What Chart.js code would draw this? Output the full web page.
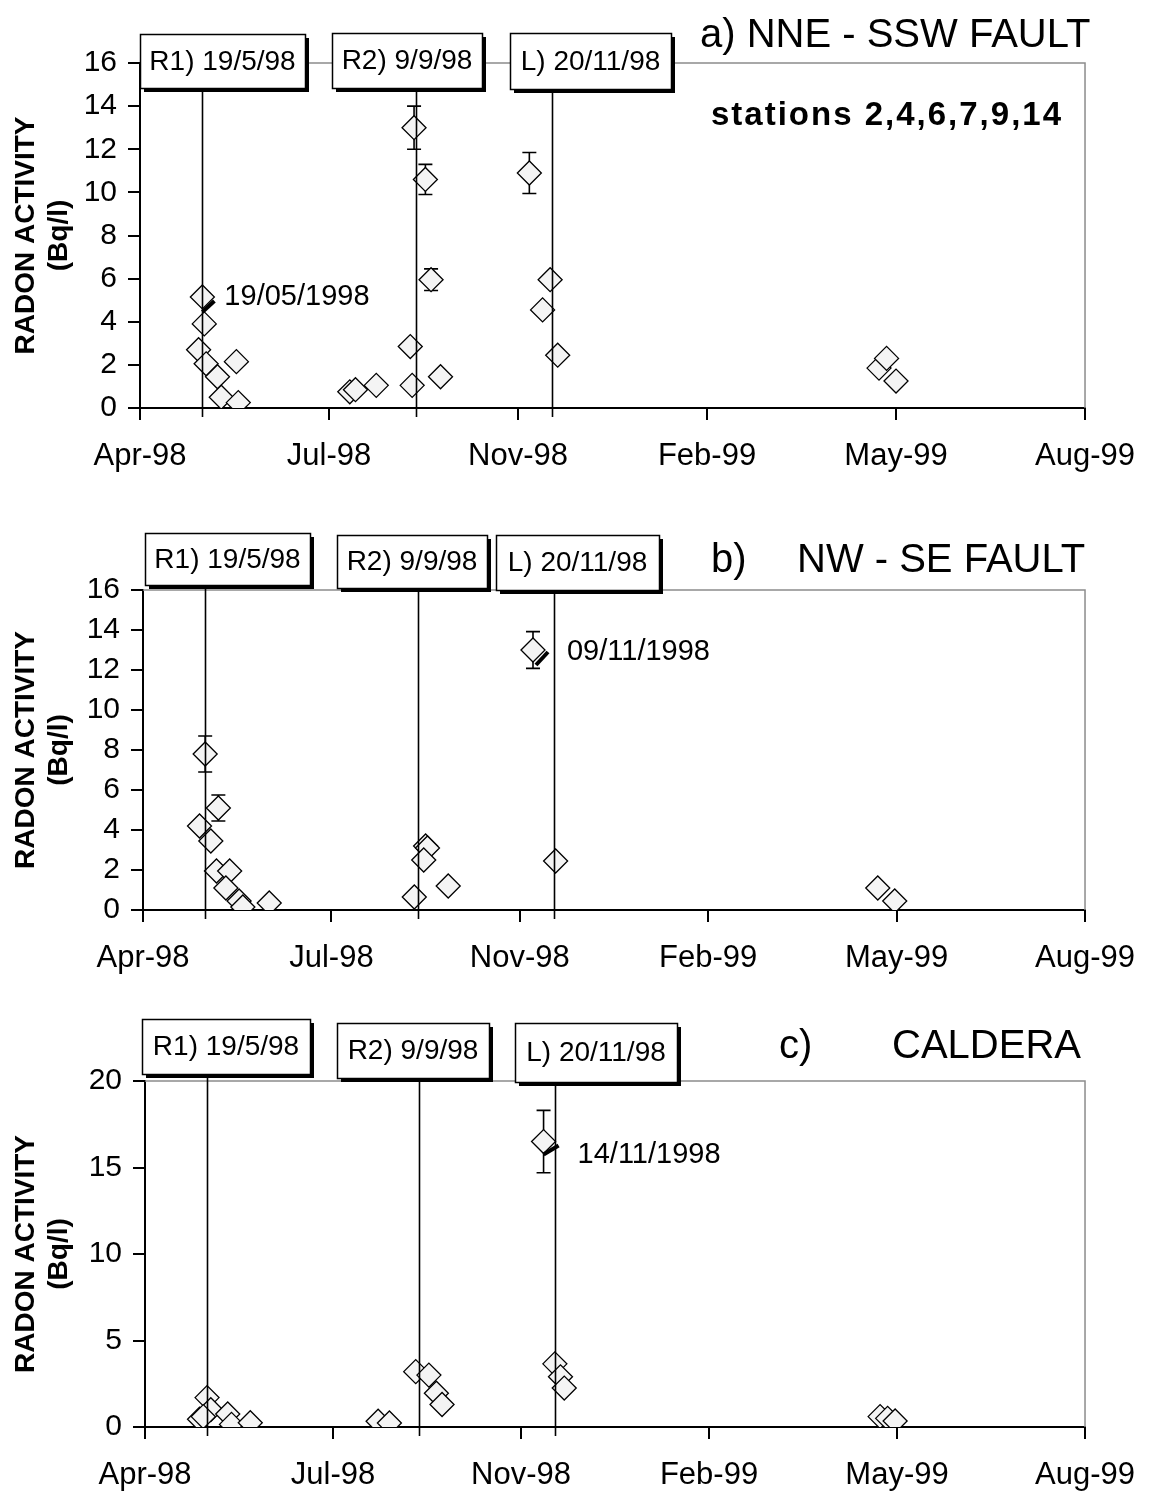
<!DOCTYPE html>
<html><head><meta charset="utf-8">
<script src="https://cdn.jsdelivr.net/npm/chart.js@4.4.0/dist/chart.umd.min.js"></script>
<style>
html,body{margin:0;padding:0;background:#fff;}
#wrap{position:relative;width:1153px;height:1494px;background:#fff;}
canvas{position:absolute;left:0;}
</style></head><body>
<div id="wrap">
<canvas id="ca" width="1153" height="500" style="top:0px;width:1153px;height:500px"></canvas>
<canvas id="cb" width="1153" height="500" style="top:500px;width:1153px;height:500px"></canvas>
<canvas id="cc" width="1153" height="494" style="top:1000px;width:1153px;height:494px"></canvas>
</div>
<script>
// ---------- data ----------
const AXIS_START = '1998-04-16';
const AXIS_DAYS = 500;
const X_STEP = 100;
const xTickLabels = ['Apr-98','Jul-98','Nov-98','Feb-99','May-99','Aug-99'];
const yTitle = ['RADON ACTIVITY','(Bq/l)'];
const eventDates = ['1998-05-19','1998-09-09','1998-11-20'];
const eventLabels = ['R1) 19/5/98','R2) 9/9/98','L) 20/11/98'];

// a) NNE - SSW fault
const datesA = ['1998-05-19','1998-05-20','1998-05-17','1998-05-21','1998-05-27','1998-05-29','1998-06-06','1998-06-07',
  '1998-08-05','1998-08-08','1998-08-19',
  '1998-09-08','1998-09-14','1998-09-17','1998-09-06','1998-09-07','1998-09-22',
  '1998-11-08','1998-11-19','1998-11-15','1998-11-23',
  '1999-05-12','1999-05-16','1999-05-21'];
const valuesA = [5.15,3.9,2.7,2.05,1.45,0.5,2.15,0.25, 0.75,0.85,1.05, 13.0,10.6,5.95,2.85,1.05,1.45, 10.9,5.95,4.55,2.45, 1.85,2.3,1.25];
const errA    = [0,0,0,0,0,0,0,0, 0,0,0, 1.0,0.7,0.5,0,0,0, 0.95,0,0,0, 0,0,0];
const yTicksA = {max:16, step:2};
const titleA = 'a) NNE - SSW FAULT';
const subtitleA = 'stations 2,4,6,7,9,14';
const calloutA = {index:0, text:'19/05/1998'};

// b) NW - SE fault
const datesB = ['1998-05-19','1998-05-16','1998-05-26','1998-05-22','1998-05-25','1998-06-01','1998-05-30','1998-06-06','1998-06-08','1998-06-22',
  '1998-09-13','1998-09-14','1998-09-12','1998-09-07','1998-09-25',
  '1998-11-09','1998-11-21',
  '1999-05-11','1999-05-20'];
const valuesB = [7.8,4.2,5.1,3.45,1.95,1.95,1.1,0.45,0.15,0.35, 3.2,3.1,2.5,0.65,1.2, 13.0,2.45, 1.1,0.45];
const errB    = [0.9,0,0.65,0,0,0,0,0,0,0, 0,0,0,0,0, 0.92,0, 0,0];
const yTicksB = {max:16, step:2};
const titleB = ['b)','NW - SE FAULT'];
const calloutB = {index:15, text:'09/11/1998'};

// c) Caldera
const datesC = ['1998-05-19','1998-05-21','1998-05-15','1998-05-17','1998-05-30','1998-06-01','1998-06-11',
  '1998-08-18','1998-08-24',
  '1998-09-07','1998-09-14','1998-09-18','1998-09-21',
  '1998-11-14','1998-11-20','1998-11-23','1998-11-25',
  '1999-05-12','1999-05-16','1999-05-20'];
const valuesC = [1.7,1.0,0.45,0.6,0.75,0.15,0.25, 0.33,0.23, 3.2,3.0,1.95,1.3, 16.5,3.65,2.9,2.25, 0.6,0.5,0.35];
const errC    = [0,0,0,0,0,0,0, 0,0, 0,0,0,0, 1.8,0,0,0, 0,0,0];
const yTicksC = {max:20, step:5};
const titleC = ['c)','CALDERA'];
const calloutC = {index:13, text:'14/11/1998'};

// ---------- drawing ----------
const FONT = "'Liberation Sans', Arial, sans-serif";
Chart.defaults.font.family = FONT;
const DAY = 86400000;
const t0 = Date.parse(AXIS_START);
const dayOf = d => (Date.parse(d) - t0) / DAY;

function decor(P){
  return {
    id:'decor',
    beforeDatasetsDraw(chart){
      const {ctx, chartArea:ca, scales:{x,y}} = chart;
      ctx.save();
      ctx.strokeStyle='#8c8c8c'; ctx.lineWidth=1.5;
      ctx.beginPath(); ctx.moveTo(ca.left, ca.top); ctx.lineTo(ca.right, ca.top); ctx.lineTo(ca.right, ca.bottom); ctx.stroke();
      ctx.strokeStyle='#000'; ctx.lineWidth=1.6;
      P.dates.forEach((d,i)=>{
        const e = P.err[i]; if(!e) return;
        const px = x.getPixelForValue(dayOf(d));
        const y1 = y.getPixelForValue(P.values[i]+e), y2 = y.getPixelForValue(P.values[i]-e);
        ctx.beginPath();
        ctx.moveTo(px,y1); ctx.lineTo(px,y2);
        ctx.moveTo(px-7,y1); ctx.lineTo(px+7,y1);
        ctx.moveTo(px-7,y2); ctx.lineTo(px+7,y2);
        ctx.stroke();
      });
      ctx.restore();
    },
    afterDatasetsDraw(chart){
      const {ctx, scales:{x,y}} = chart;
      ctx.save();
      const c = P.callout, ci = c.index;
      const px = x.getPixelForValue(dayOf(P.dates[ci])), py = y.getPixelForValue(P.values[ci]);
      const L = P.leader;
      ctx.strokeStyle='#000'; ctx.lineWidth=4;
      ctx.beginPath(); ctx.moveTo(px+L[0],py+L[1]); ctx.lineTo(px+L[2],py+L[3]); ctx.stroke();
      ctx.fillStyle='#000'; ctx.font='29px '+FONT; ctx.textAlign='left'; ctx.textBaseline='middle';
      ctx.fillText(c.text, px+P.labelOff[0], py+P.labelOff[1]);
      const y0 = y.getPixelForValue(0);
      ctx.lineWidth=1.6;
      eventDates.forEach((d,i)=>{
        const ex = Math.round(x.getPixelForValue(dayOf(d)))+0.5;
        ctx.beginPath(); ctx.moveTo(ex, P.boxes[i][3]); ctx.lineTo(ex, y0+9); ctx.stroke();
      });
      P.boxes.forEach((b,i)=>{
        const w=b[2]-b[0], h=b[3]-b[1];
        ctx.fillStyle='#000'; ctx.fillRect(b[0]+4,b[1]+4,w,h);
        ctx.fillStyle='#fff'; ctx.fillRect(b[0],b[1],w,h);
        ctx.strokeStyle='#000'; ctx.lineWidth=1.5; ctx.strokeRect(b[0]+0.5,b[1]+0.5,w,h);
        ctx.fillStyle='#000'; ctx.font='28px '+FONT; ctx.textAlign='center'; ctx.textBaseline='middle';
        ctx.fillText(eventLabels[i], (b[0]+b[2])/2, (b[1]+b[3])/2+1);
      });
      P.titles.forEach(t=>{
        ctx.font=t.font; ctx.textAlign='left'; ctx.textBaseline='alphabetic';
        ctx.letterSpacing = t.ls || '0px';
        ctx.fillStyle='#000';
        ctx.fillText(t.text, t.x, t.y);
      });
      ctx.letterSpacing='0px';
      ctx.restore();
    }
  };
}

function makeChart(id, P){
  const canvas = document.getElementById(id);
  return new Chart(canvas, {
    type:'scatter',
    data:{datasets:[{
      data: P.dates.map((d,i)=>({x:dayOf(d), y:P.values[i]})),
      pointStyle:'rectRot', pointRadius:12, pointHoverRadius:12,
      backgroundColor:'#f4f4f4', borderColor:'#000', borderWidth:1.3
    }]},
    options:{
      responsive:false, animation:false, devicePixelRatio:1,
      layout:{padding:{left:0, top:P.top, right:1153-P.right, bottom:0}},
      plugins:{legend:{display:false}, tooltip:{enabled:false}},
      scales:{
        x:{type:'linear', position:'bottom', min:0, max:AXIS_DAYS,
          afterFit: s => { s.height = canvas.height - P.bottom; },
          ticks:{stepSize:X_STEP, autoSkip:false, maxRotation:0, padding:18, color:'#000',
            font:{family:FONT, size:31}, callback:(v,i)=>xTickLabels[i]},
          grid:{drawOnChartArea:false, drawTicks:true, tickLength:12, color:'#000', lineWidth:2},
          border:{display:true, color:'#000', width:2}},
        y:{min:0, max:P.yt.max,
          afterFit: s => { s.width = P.left; },
          ticks:{stepSize:P.yt.step, padding:11, color:'#000', font:{family:FONT, size:30}},
          grid:{drawOnChartArea:false, drawTicks:true, tickLength:12, color:'#000', lineWidth:2},
          border:{display:true, color:'#000', width:2},
          title:{display:true, text:yTitle, color:'#000',
            font:{family:FONT, size:28, weight:'bold', lineHeight:'33px'}, padding:{top:10, bottom:0}}}
      }
    },
    plugins:[decor(P)]
  });
}

makeChart('ca', {dates:datesA, values:valuesA, err:errA, yt:yTicksA,
  left:140, right:1092, top:63, bottom:408,
  callout:calloutA, labelOff:[22,0], leader:[0,15,12,4],
  boxes:[[140,34,305,88],[332,33,482,88],[510,33,671,89]],
  titles:[{text:titleA, x:700, y:47, font:'40px '+FONT},
          {text:subtitleA, x:711, y:125, font:'bold 33px '+FONT, ls:'2px'}]});

makeChart('cb', {dates:datesB, values:valuesB, err:errB, yt:yTicksB,
  left:143, right:1094, top:90, bottom:410,
  callout:calloutB, labelOff:[34,2], leader:[3,15,15,2],
  boxes:[[145,33,310,85],[337,35,487,88],[496,35,659,90]],
  titles:[{text:titleB[0], x:711, y:72, font:'40px '+FONT},
          {text:titleB[1], x:797, y:72, font:'40px '+FONT}]});

makeChart('cc', {dates:datesC, values:valuesC, err:errC, yt:yTicksC,
  left:145, right:1098, top:81, bottom:427,
  callout:calloutC, labelOff:[34,13], leader:[0,13,15,4],
  boxes:[[142,19,310,74],[337,23,489,78],[515,23,677,82]],
  titles:[{text:titleC[0], x:779, y:58, font:'40px '+FONT},
          {text:titleC[1], x:892, y:58, font:'40px '+FONT}]});
</script>
</body></html>
